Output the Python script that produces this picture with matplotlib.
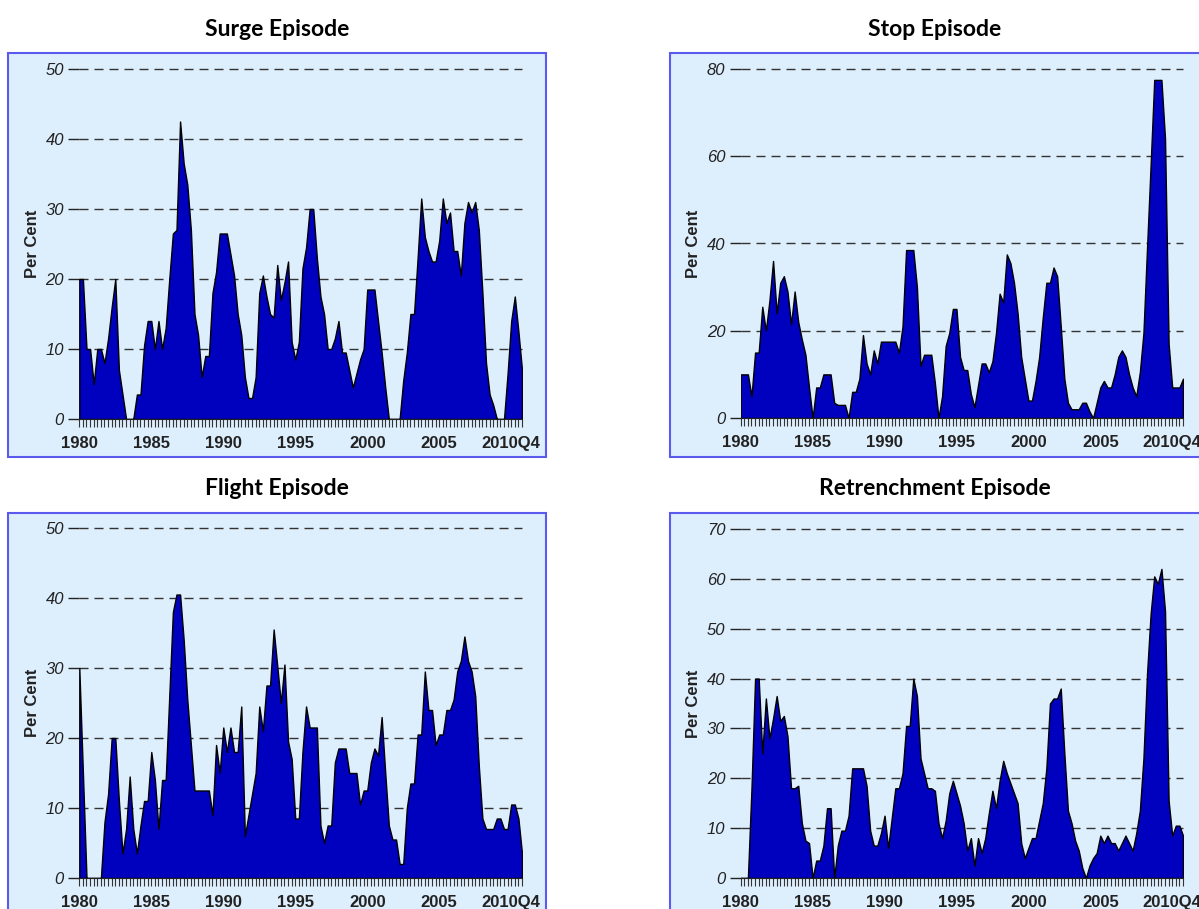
import numpy as np
import matplotlib
matplotlib.use('Agg')
import matplotlib.pyplot as plt
from matplotlib.patches import Rectangle

plt.rcParams['font.family'] = 'Liberation Sans'

# quarterly share of countries in each episode, 1980Q1 - 2010Q4 (per cent)
surge = [20, 20, 10, 10, 5, 10, 10, 8, 11.5, 16,
         20, 7, 3.5, 0, 0, 0, 3.5, 3.5, 10.5, 14,
         14, 10, 14, 10, 13, 20, 26.5, 27, 42.5, 36.5,
         33.5, 27, 15, 12, 6, 9, 9, 18, 21, 26.5,
         26.5, 26.5, 23.5, 20.5, 15, 12, 6, 3, 3, 6,
         18, 20.5, 17.5, 15, 14.5, 22, 17, 19.5, 22.5, 11,
         8.5, 11, 21.5, 24.5, 30, 30, 23, 17.5, 15, 10,
         10, 11.5, 14, 9.5, 9.5, 7, 4.5, 6.5, 8.5, 10,
         18.5, 18.5, 18.5, 14, 9.5, 4.5, 0, 0, 0, 0,
         5.5, 9.5, 15, 15, 23, 31.5, 26, 24, 22.5, 22.5,
         25.5, 31.5, 28, 29.5, 24, 24, 20.5, 28, 31, 29.5,
         31, 27, 18, 8, 3.5, 2, 0, 0, 0, 6.5,
         14, 17.5, 12.5, 7]

stop = [10, 10, 10, 5, 15, 15, 25.5, 20, 27, 36,
        24, 31, 32.5, 29, 21.5, 29, 22, 18, 14.5, 7,
        0, 7, 7, 10, 10, 10, 3.5, 3, 3, 3,
        0, 6, 6, 9, 19, 12.5, 10, 15.5, 12.5, 17.5,
        17.5, 17.5, 17.5, 17.5, 15, 21, 38.5, 38.5, 38.5, 30,
        12, 14.5, 14.5, 14.5, 8, 0, 5, 16.5, 19.5, 25,
        25, 14, 11, 11, 5.5, 2.5, 7.5, 12.5, 12.5, 10.5,
        13, 19.5, 28.5, 26.5, 37.5, 35.5, 31, 24, 14, 9,
        4, 4, 8.5, 14, 23, 31, 31, 34.5, 32.5, 21,
        9, 3.5, 2, 2, 2, 3.5, 3.5, 1.5, 0, 3.5,
        7, 8.5, 7, 7, 10, 14, 15.5, 14, 10, 7,
        5, 10.5, 19.5, 39, 58, 77.5, 77.5, 77.5, 64, 17,
        7, 7, 7, 9]

flight = [30, 15, 0, 0, 0, 0, 0, 8, 12, 20,
          20, 11, 3.5, 7, 14.5, 7, 3.5, 7.5, 11, 11,
          18, 14, 7, 14, 14, 26, 38, 40.5, 40.5, 34,
          25.5, 19, 12.5, 12.5, 12.5, 12.5, 12.5, 9, 19, 15,
          21.5, 18, 21.5, 18, 18, 24.5, 6, 9, 12, 15,
          24.5, 21, 27.5, 27.5, 35.5, 30.3, 25, 30.5, 19.5, 17,
          8.5, 8.5, 18, 24.5, 21.5, 21.5, 21.5, 7.5, 5, 7.5,
          7.5, 16.5, 18.5, 18.5, 18.5, 15, 15, 15, 10.5, 12.5,
          12.5, 16.5, 18.5, 17.5, 23, 15, 7.5, 5.5, 5.5, 2,
          2, 10, 13.5, 13.5, 20.5, 20.5, 29.5, 24, 24, 19,
          20.5, 20.5, 24, 24, 25.5, 29.5, 31, 34.5, 31, 29.5,
          26, 16, 8.5, 7, 7, 7, 8.5, 8.5, 7, 7,
          10.5, 10.5, 8.5, 3.5]

retrenchment = [0, 0, 0, 18, 40, 40, 25, 36, 28, 32,
                36.5, 31.5, 32.5, 28.5, 18, 18, 18.5, 11, 7.5, 7,
                0, 3.5, 3.5, 6.5, 14, 14, 0, 6.5, 9.5, 9.5,
                12.5, 22, 22, 22, 22, 18.5, 9.5, 6.5, 6.5, 9,
                12.5, 6, 12, 18, 18, 21, 30.5, 30.5, 40, 36.5,
                24, 21, 18, 18, 17.5, 11, 8, 11.5, 17, 19.5,
                17, 14.5, 11, 5.5, 8, 2.5, 8, 5, 8, 13,
                17.5, 14, 19.5, 23.5, 21, 19, 17, 15, 7, 4,
                6, 8, 8, 11.5, 15, 22, 35, 36, 36, 38,
                25, 13.5, 11, 7.5, 5.5, 2, 0, 2.5, 4, 5,
                8.5, 7, 8.5, 7, 7, 5.5, 7, 8.5, 7, 5.5,
                9, 13.5, 24, 41, 53, 60.5, 59, 62, 53.5, 15.5,
                8.5, 10.5, 10.5, 8.5]

quarters = 1980 + np.arange(124) / 4.0
year_ticks = [1980, 1985, 1990, 1995, 2000, 2005, 2010]
year_labels = ['1980', '1985', '1990', '1995', '2000', '2005', '2010Q4']

titles = ['Surge Episode', 'Stop Episode', 'Flight Episode', 'Retrenchment Episode']
series = [surge, stop, flight, retrenchment]
y_ticks = [[0, 10, 20, 30, 40, 50],
           [0, 20, 40, 60, 80],
           [0, 10, 20, 30, 40, 50],
           [0, 10, 20, 30, 40, 50, 60, 70]]

W, H = 1199, 909
fig = plt.figure(figsize=(W / 100, H / 100), dpi=100)

# panel layout in pixels: frame box, axes box (left, right, top, bottom)
frames = [(8, 546, 53, 457), (670, 1201, 53, 457),
          (8, 546, 513, 911), (670, 1201, 513, 911)]
boxes = [(79.3, 522, 69, 419), (740.7, 1183, 69, 418),
         (79.3, 522, 528, 878), (740.7, 1183, 529, 878)]

for k in range(4):
    fl, fr, ft, fb = frames[k]
    fig.patches.append(Rectangle((fl / W, 1 - fb / H), (fr - fl) / W, (fb - ft) / H,
                                 transform=fig.transFigure, facecolor='#DDEEFD',
                                 edgecolor='#5A5AEE', linewidth=1.5, zorder=-5))
    l, r, t, b = boxes[k]
    ax = fig.add_axes([l / W, 1 - b / H, (r - l) / W, (b - t) / H])
    ax.set_zorder(1)
    ax.set_facecolor('none')
    yt = y_ticks[k]
    for v in yt[1:]:
        ax.axhline(v, color='#333333', lw=1.0, ls=(0, (6.5, 4.3)), zorder=0.5, clip_on=False)
    ax.fill_between(quarters, 0, series[k], facecolor='#0000BF', edgecolor='black',
                    linewidth=1.0, zorder=2)
    ax.set_xlim(1980, 2010.75)
    ax.set_ylim(0, yt[-1])
    ax.set_yticks(yt)
    ax.set_yticklabels([str(v) for v in yt], fontstyle='italic', fontsize=12, color='#222222')
    ax.set_xticks(year_ticks)
    ax.set_xticklabels(year_labels, fontweight='bold', fontsize=12, color='#222222')
    ax.set_xticks(quarters, minor=True)
    ax.tick_params(axis='y', direction='out', length=8, width=1, color='#222222', pad=3)
    ax.tick_params(axis='x', which='both', direction='out', length=6, width=0.8,
                   color='#333333', pad=6)
    for s in ['left', 'right', 'top']:
        ax.spines[s].set_visible(False)
    ax.spines['bottom'].set_color('#222222')
    ax.spines['bottom'].set_zorder(3)

    cx = (fl + min(fr, W)) / 2
    fig.text(cx / W, 1 - (ft - 24) / H, titles[k], ha='center', va='center',
             fontsize=16.5, fontweight='bold', family='Lato')
    fig.text((l - 47) / W, 1 - ((t + b) / 2) / H, 'Per Cent', rotation=90,
             ha='center', va='center', fontsize=12, fontweight='bold', color='#222222')

fig.savefig('out.png', dpi=100)
